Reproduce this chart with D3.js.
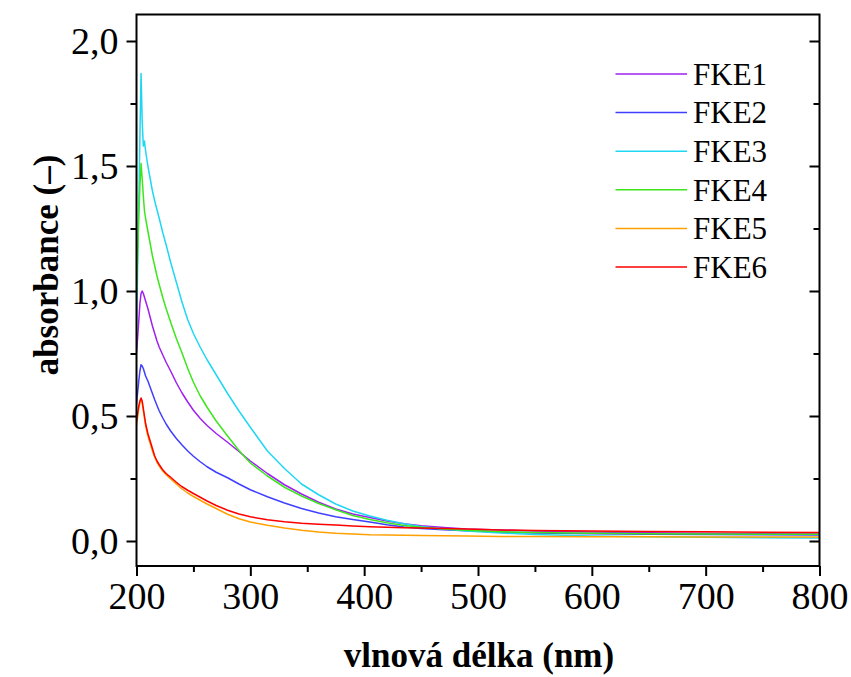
<!DOCTYPE html>
<html><head><meta charset="utf-8">
<script src="https://cdn.jsdelivr.net/npm/d3@7"></script>
<style>body{margin:0;background:#fff}svg{display:block}</style>
</head><body>
<script>
const wavelengths = [200,202,203,204,205,206,207,208,210,212,214,216,218,220,223,226,230,235,240,245,250,256,262,270,280,290,300,315,330,345,360,375,390,405,420,435,450,470,490,520,550,600,650,700,750,800];
const FKE1 = [0.75,0.88,0.95,0.99,1.00,0.99,0.975,0.96,0.93,0.895,0.86,0.83,0.80,0.775,0.745,0.715,0.68,0.633,0.592,0.556,0.523,0.49,0.462,0.43,0.395,0.358,0.32,0.27,0.225,0.188,0.155,0.128,0.108,0.094,0.08,0.069,0.061,0.054,0.048,0.044,0.040,0.036,0.033,0.031,0.029,0.028];
const FKE2 = [0.55,0.64,0.68,0.705,0.70,0.69,0.675,0.66,0.64,0.615,0.59,0.565,0.542,0.52,0.493,0.468,0.44,0.41,0.384,0.36,0.339,0.317,0.297,0.275,0.253,0.228,0.205,0.177,0.152,0.13,0.112,0.097,0.086,0.076,0.065,0.056,0.05,0.045,0.041,0.036,0.032,0.029,0.027,0.026,0.025,0.024];
const FKE3 = [0.84,1.35,1.62,1.87,1.68,1.58,1.60,1.56,1.50,1.45,1.40,1.36,1.325,1.29,1.235,1.185,1.115,1.035,0.955,0.885,0.83,0.775,0.725,0.665,0.59,0.52,0.455,0.36,0.29,0.228,0.185,0.148,0.12,0.10,0.083,0.069,0.058,0.048,0.040,0.032,0.026,0.020,0.017,0.015,0.013,0.012];
const FKE4 = [1.00,1.30,1.42,1.51,1.45,1.38,1.32,1.29,1.24,1.19,1.14,1.10,1.06,1.025,0.975,0.93,0.875,0.81,0.752,0.69,0.635,0.58,0.535,0.48,0.42,0.362,0.312,0.26,0.215,0.18,0.15,0.125,0.102,0.086,0.073,0.062,0.055,0.048,0.043,0.037,0.034,0.031,0.029,0.028,0.027,0.027];
const FKE5 = [0.46,0.53,0.555,0.565,0.55,0.52,0.49,0.46,0.42,0.39,0.36,0.335,0.315,0.30,0.28,0.265,0.248,0.228,0.208,0.192,0.178,0.163,0.148,0.13,0.107,0.089,0.076,0.063,0.052,0.043,0.036,0.031,0.028,0.025,0.024,0.023,0.022,0.021,0.020,0.018,0.018,0.017,0.017,0.016,0.016,0.016];
const FKE6 = [0.48,0.54,0.56,0.572,0.56,0.53,0.50,0.47,0.43,0.40,0.37,0.34,0.32,0.305,0.285,0.27,0.255,0.235,0.217,0.203,0.19,0.175,0.16,0.142,0.123,0.108,0.097,0.085,0.077,0.071,0.067,0.064,0.06,0.057,0.055,0.053,0.052,0.05,0.048,0.044,0.042,0.040,0.038,0.037,0.035,0.034];
const seriesNames = ["FKE1","FKE2","FKE3","FKE4","FKE5","FKE6"];
const seriesValues = [FKE1,FKE2,FKE3,FKE4,FKE5,FKE6];
const seriesColors = ["#a020f0","#3f3fff","#1fd7f2","#3de61c","#ffa000","#ff0000"];
const xTicks = [200,300,400,500,600,700,800];
const xMinorTicks = [250,350,450,550,650,750];
const yTicks = [0,0.5,1.0,1.5,2.0];
const yMinorTicks = [0.25,0.75,1.25,1.75];
const xTitle = "vlnová délka (nm)";
const yTitle = "absorbance (–)";

const W = 851, H = 677;
const L = 136.5, R = 819.5, T = 14.5, B = 566;
const font = "'Liberation Serif','Times New Roman',serif";

const svg = d3.select("body").append("svg").attr("width", W).attr("height", H);
const x = d3.scaleLinear().domain([200, 800]).range([L, R]);
const y = d3.scaleLinear().domain([-0.1, 2.106]).range([B, T]);

svg.append("defs").append("clipPath").attr("id", "clip")
  .append("rect").attr("x", L).attr("y", T).attr("width", R - L).attr("height", B - T);

const fmt = d => d3.format(".1f")(d).replace(".", ",");

// lines
const line = d3.line().x((d, i) => x(wavelengths[i])).y(d => y(d));
const g = svg.append("g").attr("clip-path", "url(#clip)");
seriesValues.forEach((vals, k) => {
  g.append("path").datum(vals).attr("d", line)
    .attr("fill", "none").attr("stroke", seriesColors[k]).attr("stroke-width", 1.5)
    .attr("stroke-linejoin", "round");
});

// frame
svg.append("rect").attr("x", L).attr("y", T).attr("width", R - L).attr("height", B - T)
  .attr("fill", "none").attr("stroke", "#000").attr("stroke-width", 2);

// bottom axis
svg.append("g").attr("transform", `translate(0,${B})`)
  .call(d3.axisBottom(x).tickValues(xTicks).tickSize(10).tickPadding(6).tickFormat(d3.format("d")));
svg.append("g").attr("transform", `translate(0,${B})`)
  .call(d3.axisBottom(x).tickValues(xMinorTicks).tickSize(6).tickFormat(""));
// left axis
svg.append("g").attr("transform", `translate(${L},0)`)
  .call(d3.axisLeft(y).tickValues(yTicks).tickSize(10).tickPadding(8).tickFormat(fmt));
svg.append("g").attr("transform", `translate(${L},0)`)
  .call(d3.axisLeft(y).tickValues(yMinorTicks).tickSize(6).tickFormat(""));
// right axis (inward ticks)
svg.append("g").attr("transform", `translate(${R},0)`)
  .call(d3.axisLeft(y).tickValues(yTicks).tickSize(10).tickFormat(""));
svg.append("g").attr("transform", `translate(${R},0)`)
  .call(d3.axisLeft(y).tickValues(yMinorTicks).tickSize(6).tickFormat(""));

svg.selectAll(".domain").remove();
svg.selectAll(".tick line").attr("stroke", "#000").attr("stroke-width", 2);
svg.selectAll(".tick text").attr("font-family", font).attr("font-size", 38).attr("fill", "#000");

// titles
svg.append("text").attr("x", 479).attr("y", 667).attr("text-anchor", "middle")
  .attr("font-family", font).attr("font-weight", "bold").attr("font-size", 35).text(xTitle);
svg.append("text").attr("transform", `translate(58,265) rotate(-90)`).attr("text-anchor", "middle")
  .attr("font-family", font).attr("font-weight", "bold").attr("font-size", 35).text(yTitle);

// legend
const lg = svg.append("g");
seriesNames.forEach((name, k) => {
  const yy = 74 + k * 38.6;
  lg.append("line").attr("x1", 615.5).attr("x2", 687).attr("y1", yy).attr("y2", yy)
    .attr("stroke", seriesColors[k]).attr("stroke-width", 1.5);
  lg.append("text").attr("x", 693).attr("y", yy).attr("dy", "0.35em")
    .attr("font-family", font).attr("font-size", 31).attr("fill", "#000").text(name);
});
</script>
</body></html>
